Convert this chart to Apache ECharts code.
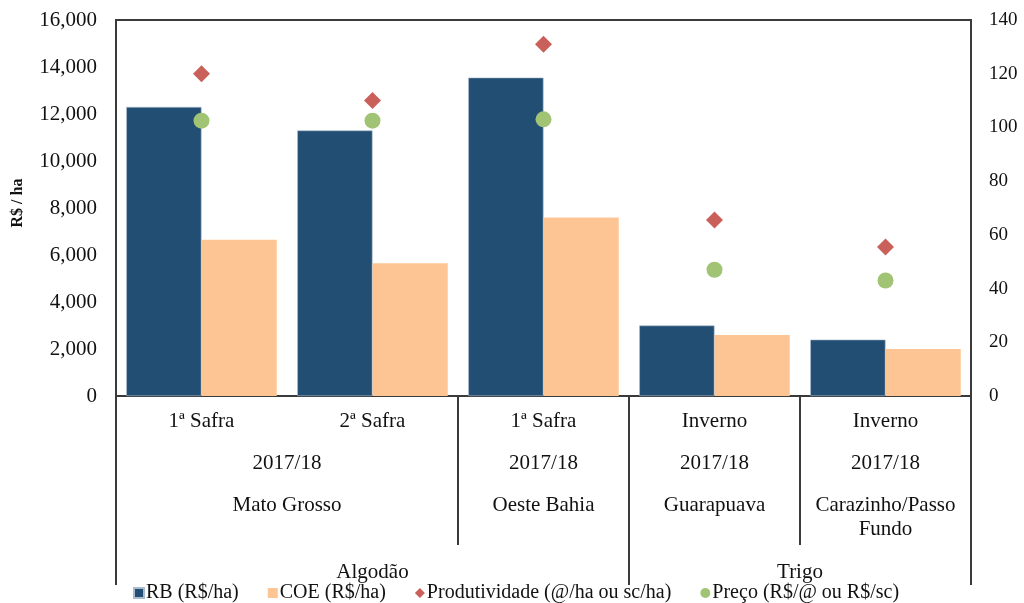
<!DOCTYPE html>
<html>
<head>
<meta charset="utf-8">
<script src="https://cdn.jsdelivr.net/npm/echarts@6/dist/echarts.min.js"></script>
<style>
  html, body { margin: 0; padding: 0; background: #fff; }
  #chart { width: 1024px; height: 603px; }
</style>
</head>
<body>
<div id="chart"></div>
<script>
// values
var seasons = ['1ª Safra', '2ª Safra', '1ª Safra', 'Inverno', 'Inverno'];
var rb = [12300, 11300, 13550, 3000, 2400];
var coe = [6650, 5650, 7600, 2600, 2000];
var produtividade = [120, 110, 131, 65.5, 55.5];
var preco = [102.5, 102.5, 103, 47, 43];

// grouped labels under the axis: [text, first index, last index]
var years = [['2017/18', 0, 1], ['2017/18', 2, 2], ['2017/18', 3, 3], ['2017/18', 4, 4]];
var regions = [['Mato Grosso', 0, 1], ['Oeste Bahia', 2, 2], ['Guarapuava', 3, 3], ['Carazinho/Passo\nFundo', 4, 4]];
var crops = [['Algodão', 0, 2], ['Trigo', 3, 4]];

var serif = '"Liberation Serif", "DejaVu Serif", serif';
var ink = '#111';
var labelSize = 21;

var chart = echarts.init(document.getElementById('chart'));

var option = {
    animation: false,
    textStyle: { fontFamily: serif, color: ink },
    grid: {
        left: 116, right: 53, top: 20, bottom: 207,
        outerBoundsMode: 'none',
        show: true, borderColor: '#3a3a3a', borderWidth: 2, backgroundColor: 'transparent'
    },
    legend: {
        top: 578, left: 128,
        itemWidth: 10, itemHeight: 10, itemGap: 29,
        textStyle: { fontFamily: serif, fontSize: 20, color: ink, padding: [0, 0, 0, -3] },
        data: [
            { name: 'RB (R$/ha)', icon: 'rect' },
            { name: 'COE (R$/ha)', icon: 'rect' },
            { name: 'Produtividade (@/ha ou sc/ha)', icon: 'diamond' },
            { name: 'Preço (R$/@ ou R$/sc)', icon: 'circle' }
        ]
    },
    xAxis: {
        type: 'category',
        data: seasons,
        axisLine: { lineStyle: { color: '#3a3a3a', width: 2 } },
        axisTick: { show: false },
        axisLabel: { fontFamily: serif, fontSize: labelSize, color: ink, margin: 15 }
    },
    yAxis: [
        {
            type: 'value', min: 0, max: 16000, interval: 2000,
            name: 'R$ / ha', nameLocation: 'middle', nameRotate: 90, nameGap: 90,
            nameTextStyle: { fontFamily: serif, fontSize: 16, fontWeight: 'bold', color: ink, padding: [0, 0, 0, 10] },
            axisLine: { show: true, lineStyle: { color: '#3a3a3a', width: 2 } },
            axisTick: { show: false },
            splitLine: { show: false },
            axisLabel: {
                fontFamily: serif, fontSize: 21, color: ink, margin: 19,
                formatter: function (v) { return v.toLocaleString('en-US'); }
            }
        },
        {
            type: 'value', min: 0, max: 140, interval: 20, position: 'right',
            axisLine: { show: true, lineStyle: { color: '#3a3a3a', width: 2 } },
            axisTick: { show: false },
            splitLine: { show: false },
            axisLabel: { fontFamily: serif, fontSize: 19, color: ink, margin: 18 }
        }
    ],
    series: [
        {
            name: 'RB (R$/ha)', type: 'bar', data: rb,
            barGap: '0%', barCategoryGap: '12%',
            itemStyle: { color: '#224e74', borderColor: '#a9bccd', borderWidth: 0.6 }
        },
        {
            name: 'COE (R$/ha)', type: 'bar', data: coe,
            itemStyle: { color: '#fdc593' }
        },
        {
            name: 'Produtividade (@/ha ou sc/ha)', type: 'scatter', yAxisIndex: 1,
            data: produtividade, symbol: 'diamond', symbolSize: 17,
            itemStyle: { color: '#c9605a', opacity: 1 }
        },
        {
            name: 'Preço (R$/@ ou R$/sc)', type: 'scatter', yAxisIndex: 1,
            data: preco, symbol: 'circle', symbolSize: 16,
            itemStyle: { color: '#a0c474', opacity: 1 }
        }
    ]
};

chart.setOption(option);

// category centres and widths come from the axis itself
var x0 = chart.convertToPixel({ xAxisIndex: 0 }, 0);
var x1 = chart.convertToPixel({ xAxisIndex: 0 }, 1);
var step = x1 - x0;
var axisY = chart.convertToPixel({ yAxisIndex: 0 }, 0);

function centerOf(a, b) {
    return (chart.convertToPixel({ xAxisIndex: 0 }, a) + chart.convertToPixel({ xAxisIndex: 0 }, b)) / 2;
}
function edgeLeft(i) { return chart.convertToPixel({ xAxisIndex: 0 }, i) - step / 2; }

var graphics = [];
function addText(txt, x, y) {
    graphics.push({
        type: 'text', silent: true, z: 10,
        style: {
            text: txt, x: x, y: y, textAlign: 'center', textVerticalAlign: 'top',
            fontFamily: serif, fontSize: labelSize, lineHeight: 24, fill: ink
        }
    });
}
function addLine(x, yEnd) {
    graphics.push({
        type: 'line', silent: true, z: 10,
        shape: { x1: x, y1: axisY, x2: x, y2: yEnd },
        style: { stroke: '#3a3a3a', lineWidth: 2 }
    });
}

years.forEach(function (g) { addText(g[0], centerOf(g[1], g[2]), axisY + 55); });
regions.forEach(function (g) { addText(g[0], centerOf(g[1], g[2]), axisY + 97); });
crops.forEach(function (g) { addText(g[0], centerOf(g[1], g[2]), axisY + 164); });

// separators: short ones between regions, long ones around crops
regions.forEach(function (g) {
    if (g[1] > 0) addLine(edgeLeft(g[1]), axisY + 149);
});
crops.forEach(function (g) { addLine(edgeLeft(g[1]), axisY + 189); });
addLine(edgeLeft(seasons.length), axisY + 189);

chart.setOption({ graphic: graphics });

window.onresize = chart.resize;
</script>
</body>
</html>
